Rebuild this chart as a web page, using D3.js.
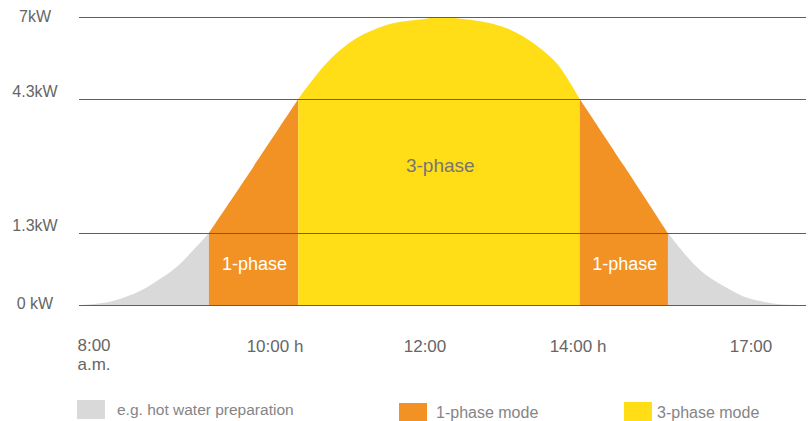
<!DOCTYPE html>
<html>
<head>
<meta charset="utf-8">
<script src="https://cdn.jsdelivr.net/npm/d3@7"></script>
<style>
  html, body { margin: 0; padding: 0; background: #ffffff; }
  svg { display: block; font-family: "Liberation Sans", Arial, Helvetica, sans-serif; }
</style>
</head>
<body>
<svg id="chart" width="808" height="421"></svg>
<script>
// ---- data ----
const yTickValues = [0, 1.3, 4.3, 7];
const yTickLabels = ["0 kW", "1.3kW", "4.3kW", "7kW"];
const xTickHours  = [8, 10, 12, 14, 17];
const xTickLabels = [["8:00", "a.m."], ["10:00 h"], ["12:00"], ["14:00 h"], ["17:00"]];

// power curve (hour of day, kW)
const curveHours = [7.87, 8.15, 8.34, 8.53, 8.71, 8.90, 9.08, 9.27, 9.76, 10.31, 10.64, 10.87, 11.09, 11.31, 11.53, 11.76, 11.97, 12.18,
                    12.39, 12.61, 12.84, 13.06, 13.28, 13.50, 13.73, 14.03, 14.80, 15.56, 15.99, 16.29, 16.58, 16.86, 17.16, 17.45, 17.95];
const curveKW    = [0, 0.05, 0.14, 0.27, 0.45, 0.67, 0.96, 1.3, 2.78, 4.3, 5.35, 5.91, 6.31, 6.57, 6.77, 6.87, 6.93, 7.0,
                    6.97, 6.90, 6.80, 6.64, 6.37, 5.98, 5.45, 4.3, 2.8, 1.3, 0.76, 0.49, 0.31, 0.16, 0.07, 0.02, 0];

// operating mode segments (start hour, end hour, mode)
const segStart = [7.87, 9.27, 10.31, 14.03, 15.56];
const segEnd   = [9.27, 10.31, 14.03, 15.56, 17.95];
const segMode  = ["other", "1-phase", "3-phase", "1-phase", "other"];
const segLabel = ["", "1-phase", "3-phase", "1-phase", ""];

const legendModes  = ["other", "1-phase", "3-phase"];
const legendLabels = ["e.g. hot water preparation", "1-phase mode", "3-phase mode"];

// ---- styles ----
const modeColor = { "other": "#d9d9d9", "1-phase": "#f39224", "3-phase": "#ffdd17" };
const modeTextColor = { "1-phase": "#ffffff", "3-phase": "#767676" };

// ---- scales ----
const svg = d3.select("#chart");
const x = d3.scaleLinear().domain(xTickHours).range([94, 275, 425, 578, 751]);
const y = d3.scaleLinear().domain(yTickValues).range([305, 233, 99, 17]);

const points = curveHours.map((h, i) => ({ h: h, kw: curveKW[i] }));

const area = d3.area()
  .x(d => x(d.h))
  .y0(y(0))
  .y1(d => y(d.kw))
  .curve(d3.curveCatmullRom.alpha(0.5));

// areas
segMode.forEach((m, i) => {
  const pts = points.filter(p => p.h >= segStart[i] - 1e-9 && p.h <= segEnd[i] + 1e-9);
  svg.append("path")
    .attr("d", area(pts))
    .attr("fill", modeColor[m])
    .attr("stroke", "none");
});

// gridlines
svg.append("g").selectAll("line")
  .data(yTickValues)
  .join("line")
  .attr("x1", 79)
  .attr("x2", 806)
  .attr("y1", d => Math.round(y(d)) + 0.5)
  .attr("y2", d => Math.round(y(d)) + 0.5)
  .attr("stroke", "#5e5e5e")
  .attr("stroke-width", 1);

// y labels
const yLabelDy = [4, -2, -2, 5];
svg.append("g").selectAll("text")
  .data(yTickValues)
  .join("text")
  .attr("x", 35)
  .attr("y", (d, i) => y(d) + yLabelDy[i])
  .attr("text-anchor", "middle")
  .attr("font-size", 16)
  .attr("fill", "#666666")
  .text((d, i) => yTickLabels[i]);

// x labels
const xl = svg.append("g").selectAll("text")
  .data(xTickHours)
  .join("text")
  .attr("text-anchor", "middle")
  .attr("font-size", 17)
  .attr("fill", "#666666");
xl.each(function(d, i) {
  const t = d3.select(this);
  const lines = xTickLabels[i];
  lines.forEach((line, j) => {
    t.append("tspan")
      .attr("x", x(d))
      .attr("y", (lines.length > 1 ? 351 : 352) + j * 19)
      .text(line);
  });
});

// segment labels
segMode.forEach((m, i) => {
  if (!segLabel[i]) return;
  const is3 = m === "3-phase";
  svg.append("text")
    .attr("x", is3 ? x(12.2) : (x(segStart[i]) + x(segEnd[i])) / 2 + 1)
    .attr("y", is3 ? 172 : 270)
    .attr("text-anchor", "middle")
    .attr("font-size", is3 ? 19 : 18)
    .attr("fill", modeTextColor[m])
    .text(segLabel[i]);
});

// legend
const legendX = [77, 399, 624];
const legendY = [400, 403, 402];
legendModes.forEach((m, i) => {
  svg.append("rect")
    .attr("x", legendX[i])
    .attr("y", legendY[i])
    .attr("width", 28)
    .attr("height", 19)
    .attr("fill", modeColor[m]);
  svg.append("text")
    .attr("x", legendX[i] + (i === 0 ? 40 : (i === 1 ? 37 : 33)))
    .attr("y", i === 0 ? 415 : 418)
    .attr("font-size", i === 0 ? 15.5 : 16)
    .attr("fill", "#858585")
    .text(legendLabels[i]);
});
</script>
</body>
</html>
